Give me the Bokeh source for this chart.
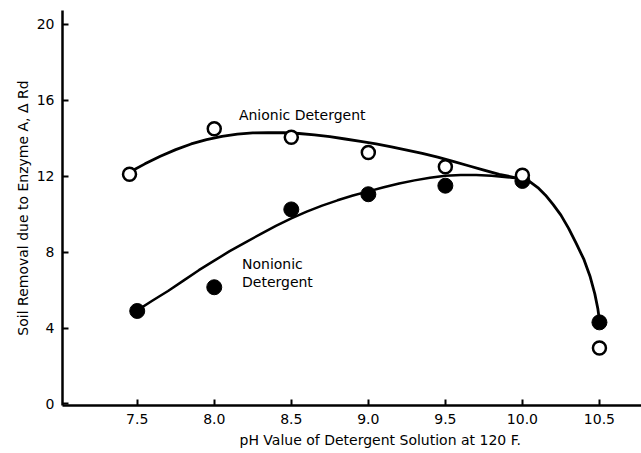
from bokeh.plotting import figure
from bokeh.models import Range1d, FixedTicker, Label, Title
from bokeh.embed import file_html
from bokeh.resources import INLINE

# Measured data points
anionic_x = [7.45, 8.0, 8.5, 9.0, 9.5, 10.0, 10.5]
anionic_y = [12.1, 14.5, 14.05, 13.25, 12.5, 12.05, 2.95]
nonionic_x = [7.5, 8.0, 8.5, 9.0, 9.5, 10.0, 10.5]
nonionic_y = [4.9, 6.15, 10.25, 11.05, 11.5, 11.75, 4.3]

# Hand-drawn fitted curves
anionic_curve_x = [7.47, 7.55, 7.65, 7.75, 7.85, 7.95, 8.05, 8.15, 8.25, 8.35, 8.45, 8.55, 8.65,
                   8.75, 8.85, 8.95, 9.05, 9.15, 9.25, 9.35, 9.45, 9.55, 9.65, 9.75, 9.85, 9.95,
                   10.0, 10.05, 10.1, 10.15, 10.2, 10.25, 10.3, 10.35, 10.4, 10.44, 10.47, 10.49, 10.5]
anionic_curve_y = [12.3, 12.65, 13.05, 13.4, 13.7, 13.93, 14.1, 14.22, 14.28, 14.3, 14.29, 14.25, 14.18,
                   14.08, 13.96, 13.83, 13.7, 13.55, 13.38, 13.2, 13.0, 12.78, 12.55, 12.32, 12.1, 11.93,
                   11.86, 11.7, 11.4, 11.0, 10.5, 9.95, 9.25, 8.45, 7.6, 6.7, 5.8, 5.0, 4.4]
nonionic_curve_x = [7.49, 7.6, 7.7, 7.8, 7.9, 8.0, 8.1, 8.2, 8.3, 8.4, 8.5, 8.6, 8.7, 8.8, 8.9,
                    9.0, 9.1, 9.2, 9.3, 9.4, 9.5, 9.6, 9.7, 9.8, 9.9, 10.0]
nonionic_curve_y = [4.88, 5.45, 5.95, 6.5, 7.05, 7.55, 8.05, 8.5, 8.95, 9.38, 9.78, 10.13, 10.45, 10.73, 10.98,
                    11.2, 11.42, 11.62, 11.78, 11.92, 12.02, 12.07, 12.07, 12.02, 11.95, 11.86]

x_ticks = [7.5, 8.0, 8.5, 9.0, 9.5, 10.0, 10.5]
x_tick_labels = ["7.5", "8.0", "8.5", "9.0", "9.5", "10.0", "10.5"]
y_ticks = [0, 4, 8, 12, 16, 20]
x_title = "pH Value of Detergent Solution at 120  F."
y_title = "Soil Removal due to Enzyme A, \u0394 Rd"

FONT = "DejaVu Sans"

p = figure(width=641, height=453, output_backend="svg", toolbar_location=None,
           x_range=Range1d(7.015, 10.773), y_range=Range1d(-0.08, 20.73),
           min_border_left=62, min_border_right=0, min_border_top=10, min_border_bottom=48)
p.outline_line_color = None
p.xgrid.visible = False
p.ygrid.visible = False
p.background_fill_color = "white"
p.border_fill_color = "white"

for ax in (p.xaxis[0], p.yaxis[0]):
    ax.axis_line_width = 2.5
    ax.axis_line_color = "black"
    ax.major_tick_in = 6
    ax.major_tick_out = 0
    ax.major_tick_line_width = 2
    ax.minor_tick_line_color = None
    ax.major_label_text_font = FONT
    ax.major_label_text_font_size = "14px"
    ax.major_label_text_color = "black"
    ax.axis_label_text_font = FONT
    ax.axis_label_text_font_size = "14px"
    ax.axis_label_text_font_style = "normal"
    ax.axis_label_text_color = "black"

p.xaxis.ticker = FixedTicker(ticks=x_ticks)
p.xaxis.major_label_overrides = {t: l for t, l in zip(x_ticks, x_tick_labels)}
p.yaxis.ticker = FixedTicker(ticks=y_ticks)
p.yaxis.axis_label = y_title
p.xaxis.major_label_standoff = 8
p.yaxis.major_label_standoff = 8
p.yaxis.axis_label_standoff = 3

# x title placed slightly right of the frame centre, as in the original
p.add_layout(Title(text=x_title, align="left", offset=177, text_font=FONT, text_font_size="14px",
                   text_font_style="normal", text_color="black", standoff=6), "below")

p.line(anionic_curve_x, anionic_curve_y, line_color="black", line_width=2.8, line_join="round")
p.line(nonionic_curve_x, nonionic_curve_y, line_color="black", line_width=2.5, line_join="round")

p.scatter(nonionic_x, nonionic_y, size=15, marker="circle", fill_color="black", line_color="black")
p.scatter(anionic_x, anionic_y, size=13, marker="circle", fill_color="white", line_color="black", line_width=2.5)

p.add_layout(Label(x=8.16, y=15.2, text="Anionic Detergent", text_font=FONT, text_font_size="14px",
                   text_baseline="middle", text_color="black"))
p.add_layout(Label(x=8.18, y=7.4, text="Nonionic", text_font=FONT, text_font_size="14px",
                   text_baseline="middle", text_color="black"))
p.add_layout(Label(x=8.18, y=6.45, text="Detergent", text_font=FONT, text_font_size="14px",
                   text_baseline="middle", text_color="black"))

open("out.html", "w").write(file_html(p, INLINE))
